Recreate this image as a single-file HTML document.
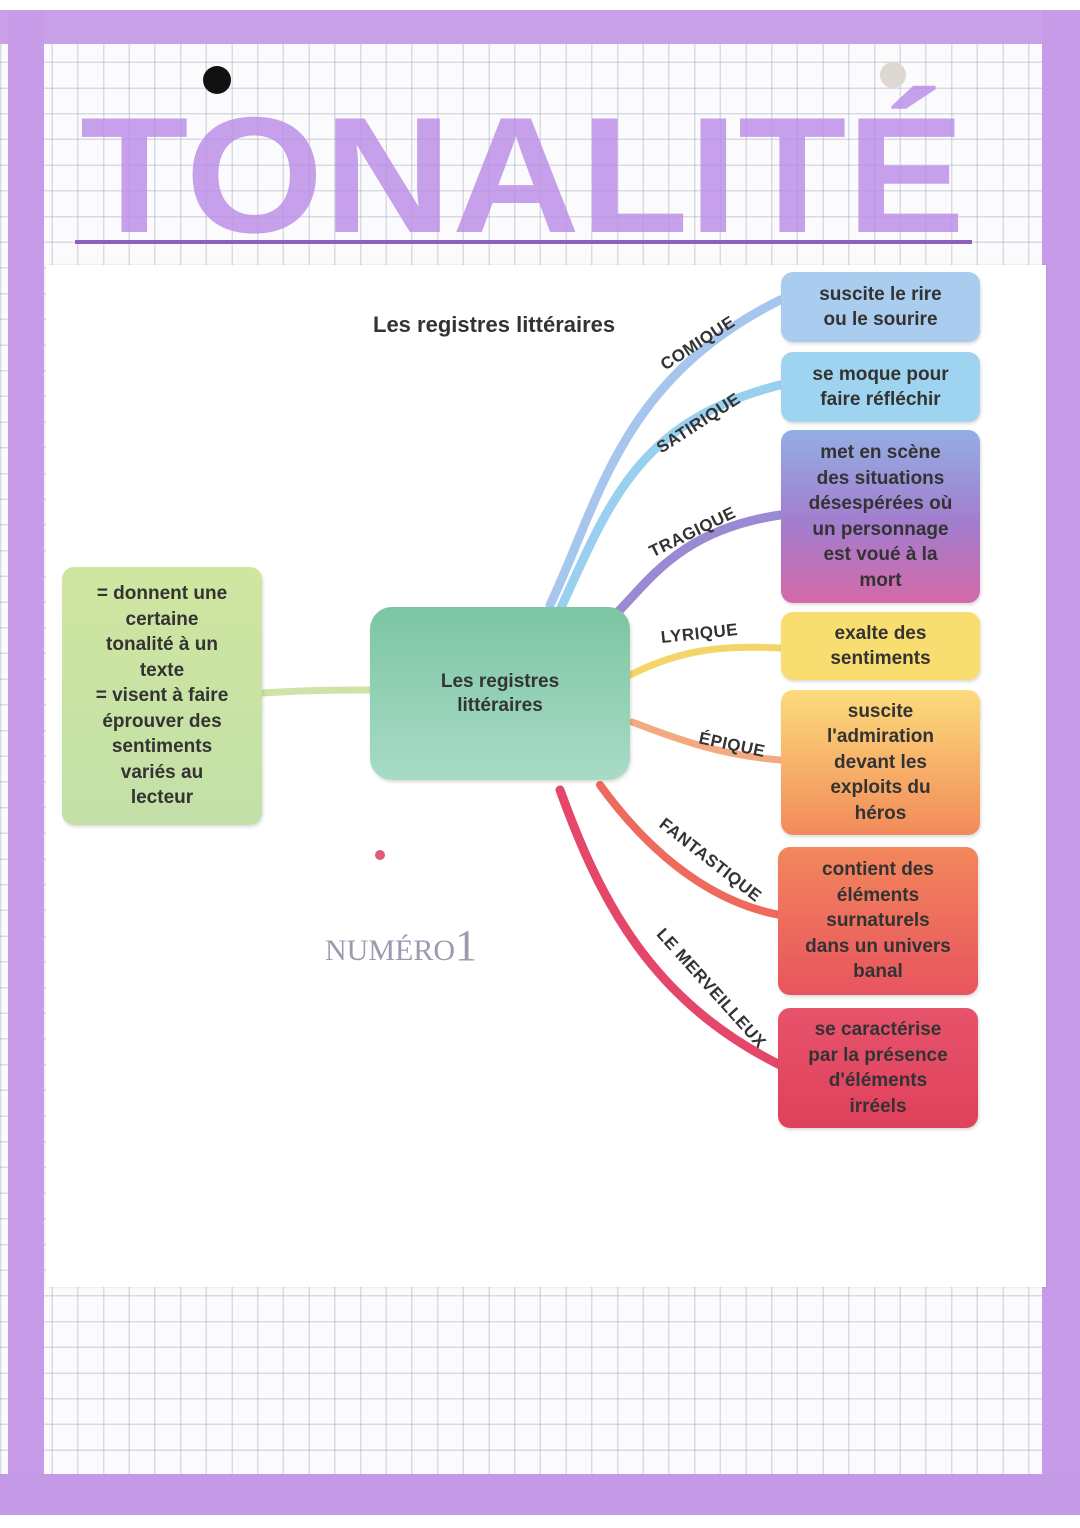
<!DOCTYPE html>
<html><head><meta charset="utf-8">
<style>
html,body{margin:0;padding:0;}
body{width:1080px;height:1528px;position:relative;overflow:hidden;background:#fbfbfd;
font-family:"Liberation Sans",sans-serif;}
.grid{position:absolute;left:0;top:0;width:1080px;height:1528px;
background-image:repeating-linear-gradient(90deg,rgba(150,150,170,.32) 0 1.5px,transparent 1.5px 25.7px),
repeating-linear-gradient(0deg,rgba(150,150,170,.32) 0 1.5px,transparent 1.5px 25.7px);}
.band{position:absolute;background:#c79be8;}
.sheet{position:absolute;left:46px;top:265px;width:1000px;height:1022px;background:#fff;box-shadow:0 0 2px rgba(0,0,0,.15);}
.box{position:absolute;border-radius:12px;color:#333;font-weight:bold;text-align:center;font-size:19px;line-height:25.5px;display:flex;align-items:center;justify-content:center;box-shadow:1px 2px 3px rgba(0,0,0,.15);}
.lbl{position:absolute;font-size:17px;font-weight:bold;color:#333;white-space:nowrap;transform-origin:left bottom;letter-spacing:0.5px}
</style></head><body>
<div class="grid"></div>
<div class="band" style="left:0;top:0;width:1080px;height:44px;background:#c9a0ea"></div>
<div class="band" style="left:8px;top:0;width:36px;height:1528px"></div>
<div class="band" style="left:1042px;top:0;width:38px;height:1528px"></div>
<div class="band" style="left:0;top:1474px;width:1080px;height:54px;background:#c49ae6"></div>
<div style="position:absolute;left:0;top:1515px;width:1080px;height:13px;background:#fff"></div>
<div style="position:absolute;left:0;top:0;width:1080px;height:10px;background:#fff"></div>

<svg style="position:absolute;left:0;top:0" width="1080" height="280">
<text x="80" y="232" textLength="885" lengthAdjust="spacingAndGlyphs" font-family="Liberation Sans" font-weight="bold" font-size="165" fill="#b98ae6" opacity="0.8">TONALITÉ</text>
<circle cx="217" cy="80" r="14" fill="#111"/>
<circle cx="893" cy="75" r="13" fill="#ddd8d0"/>
<line x1="75" y1="242" x2="972" y2="242" stroke="#8d5fbf" stroke-width="4"/>
</svg>

<div class="sheet"></div>

<svg style="position:absolute;left:0;top:0" width="1080" height="1528" fill="none" stroke-linecap="round">
<path d="M550 605 C600 500,620 380,780 300" stroke="#a7c6ee" stroke-width="9"/>
<path d="M560 610 C610 500,640 420,780 385" stroke="#99d0ef" stroke-width="9"/>
<path d="M615 615 C650 580,680 530,780 515" stroke="#9a8ad3" stroke-width="9"/>
<path d="M630 675 C680 650,720 645,780 648" stroke="#f4d56a" stroke-width="7"/>
<path d="M632 722 C680 740,720 755,780 760" stroke="#f4aa80" stroke-width="7"/>
<path d="M600 785 C640 840,700 900,780 915" stroke="#ee6a5c" stroke-width="8"/>
<path d="M560 790 C600 900,650 1000,780 1065" stroke="#e4476a" stroke-width="9"/>
<path d="M262 693 C310 690,340 690,370 690" stroke="#cde3a8" stroke-width="7"/>
</svg>

<div style="position:absolute;left:373px;top:312px;font-size:22px;font-weight:bold;color:#333">Les registres littéraires</div>

<div class="lbl" style="left:668px;top:355px;transform:rotate(-33deg)">COMIQUE</div>
<div class="lbl" style="left:664px;top:438px;transform:rotate(-33deg)">SATIRIQUE</div>
<div class="lbl" style="left:655px;top:542px;transform:rotate(-26deg)">TRAGIQUE</div>
<div class="lbl" style="left:662px;top:628px;transform:rotate(-6deg)">LYRIQUE</div>
<div class="lbl" style="left:697px;top:728px;transform:rotate(12deg)">ÉPIQUE</div>
<div class="lbl" style="left:655px;top:810px;transform:rotate(38deg)">FANTASTIQUE</div>
<div class="lbl" style="left:652px;top:918px;transform:rotate(48deg)">LE MERVEILLEUX</div>

<div class="box" style="left:62px;top:567px;width:200px;height:258px;background:linear-gradient(#cfe6a0,#c3e0a8)">= donnent une<br>certaine<br>tonalité à un<br>texte<br>= visent à faire<br>éprouver des<br>sentiments<br>variés au<br>lecteur</div>
<div class="box" style="left:370px;top:607px;width:260px;height:173px;border-radius:22px;background:linear-gradient(#7cc5a3,#a8dbc6);font-size:19px;line-height:24px">Les registres<br>littéraires</div>

<div class="box" style="left:781px;top:272px;width:199px;height:70px;background:#a9ccef">suscite le rire<br>ou le sourire</div>
<div class="box" style="left:781px;top:352px;width:199px;height:70px;background:#9fd4f0">se moque pour<br>faire réfléchir</div>
<div class="box" style="left:781px;top:430px;width:199px;height:173px;background:linear-gradient(#93aee4,#a37ccd 55%,#d46aa8)">met en scène<br>des situations<br>désespérées où<br>un personnage<br>est voué à la<br>mort</div>
<div class="box" style="left:781px;top:612px;width:199px;height:68px;background:#f8de70">exalte des<br>sentiments</div>
<div class="box" style="left:781px;top:690px;width:199px;height:145px;background:linear-gradient(#fcdc7c,#f5a363 70%,#f28a5a)">suscite<br>l'admiration<br>devant les<br>exploits du<br>héros</div>
<div class="box" style="left:778px;top:847px;width:200px;height:148px;background:linear-gradient(#f2875c,#e8545e)">contient des<br>éléments<br>surnaturels<br>dans un univers<br>banal</div>
<div class="box" style="left:778px;top:1008px;width:200px;height:120px;background:linear-gradient(#e6536a,#e0405c)">se caractérise<br>par la présence<br>d'éléments<br>irréels</div>

<div style="position:absolute;left:325px;top:920px;font-family:'Liberation Serif',serif;font-size:30px;color:#9a9ab0">NUMÉRO<span style="font-size:44px">1</span></div>
<div style="position:absolute;left:375px;top:850px;width:10px;height:10px;border-radius:50%;background:#e05a7a"></div>
</body></html>
